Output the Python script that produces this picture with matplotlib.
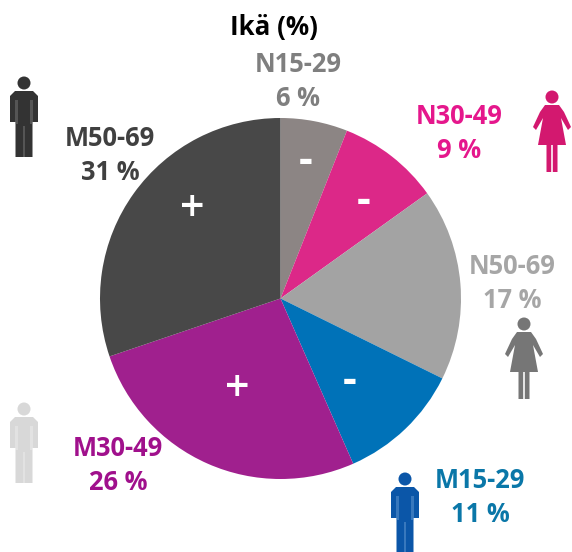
import matplotlib
matplotlib.use("Agg")
import matplotlib.pyplot as plt
from matplotlib.patches import Circle, Rectangle, Polygon

plt.rcParams['font.family'] = ['Open Sans', 'Lato', 'DejaVu Sans']

labels = ['N15-29', 'N30-49', 'N50-69', 'M15-29', 'M30-49', 'M50-69']
shares = [6.0, 9.1, 17.2, 11.1, 26.4, 30.2]
shown = [6, 9, 17, 11, 26, 31]
colors = ['#8C8584', '#DC2888', '#A3A3A3', '#0072B8', '#A0208E', '#484848']
text_colors = ['#7F7F7F', '#E5178C', '#A6A6A6', '#0A77A8', '#A0108C', '#404040']
signs = ['-', '-', '', '-', '+', '+']

W, H = 572, 552
fig = plt.figure(figsize=(W / 100, H / 100), dpi=100)
cx, cy, r = 280.5, 298.5, 180.5
ax = fig.add_axes([(cx - r) / W, 1 - (cy + r) / H, 2 * r / W, 2 * r / H])
ax.pie(shares, colors=colors, startangle=90, counterclock=False, radius=1,
       wedgeprops=dict(linewidth=0))
ax.set_xlim(-1, 1)
ax.set_ylim(-1, 1)
ax.set_aspect('equal')

ov = fig.add_axes([0, 0, 1, 1], facecolor='none')
ov.set_xlim(0, W)
ov.set_ylim(H, 0)
ov.axis('off')


def man(x, top, color, gap):
    kw = dict(facecolor=color, edgecolor='none')
    ov.add_patch(Circle((x, top + 7), 6.5, **kw))
    ov.add_patch(Polygon([(x - 14, top + 46), (x - 14, top + 20), (x - 9, top + 15),
                          (x + 9, top + 15), (x + 14, top + 20), (x + 14, top + 46),
                          (x + 8.5, top + 46), (x + 8.5, top + 81), (x - 8.5, top + 81),
                          (x - 8.5, top + 46)], **kw))
    for dx in (-7.5, 7.5):
        ov.add_patch(Rectangle((x + dx - 1.2, top + 24), 2.4, 24, facecolor=gap,
                               edgecolor='none', alpha=0.45))
    ov.add_patch(Rectangle((x - 0.8, top + 50), 1.6, 31, facecolor=gap,
                           edgecolor='none', alpha=0.45))


def woman(x, top, color):
    kw = dict(facecolor=color, edgecolor='none')
    ov.add_patch(Circle((x, top + 7), 6.5, **kw))
    ov.add_patch(Polygon([(x - 7, top + 15), (x + 7, top + 15), (x + 12, top + 22),
                          (x + 19, top + 37), (x + 16, top + 40), (x + 9, top + 28),
                          (x + 14, top + 55), (x + 5.5, top + 55), (x + 5.5, top + 82),
                          (x + 0.8, top + 82), (x + 0.8, top + 55), (x - 0.8, top + 55),
                          (x - 0.8, top + 82), (x - 5.5, top + 82), (x - 5.5, top + 55),
                          (x - 14, top + 55), (x - 9, top + 28), (x - 16, top + 40),
                          (x - 19, top + 37), (x - 12, top + 22)], **kw))


man(24, 76, '#333333', '#808080')
man(24, 402, '#D8D8D8', '#F0F0F0')
man(405, 472, '#0B56A8', '#6FA3D8')
woman(552, 90, '#D3186F')
woman(524, 317, '#767676')

fs = 18.4
ov.text(274, 28, 'Ikä (%)', ha='center', va='center', fontsize=18.6,
        fontweight='bold', color='black')

positions = [(298, 64, 98), (459, 116, 150), (512, 266, 300),
             (480, 480, 515), (118, 448, 482), (110, 139, 173)]
for lab, v, tc, (x, y1, y2) in zip(labels, shown, text_colors, positions):
    ov.text(x, y1, lab, ha='center', va='center', fontsize=fs, fontweight='bold', color=tc)
    ov.text(x, y2, f'{v} %', ha='center', va='center', fontsize=fs, fontweight='bold', color=tc)

sign_pos = [(306, 162), (364, 201), None, (350, 382), (237, 389), (192, 209)]
for s, p in zip(signs, sign_pos):
    if s == '-':
        ov.text(p[0], p[1], s, ha='center', va='center', fontsize=31,
                fontweight='bold', color='white')
    elif s == '+':
        ov.text(p[0], p[1], s, ha='center', va='center', fontsize=31,
                fontweight=600, color='white')

fig.savefig('out.png', dpi=100)
